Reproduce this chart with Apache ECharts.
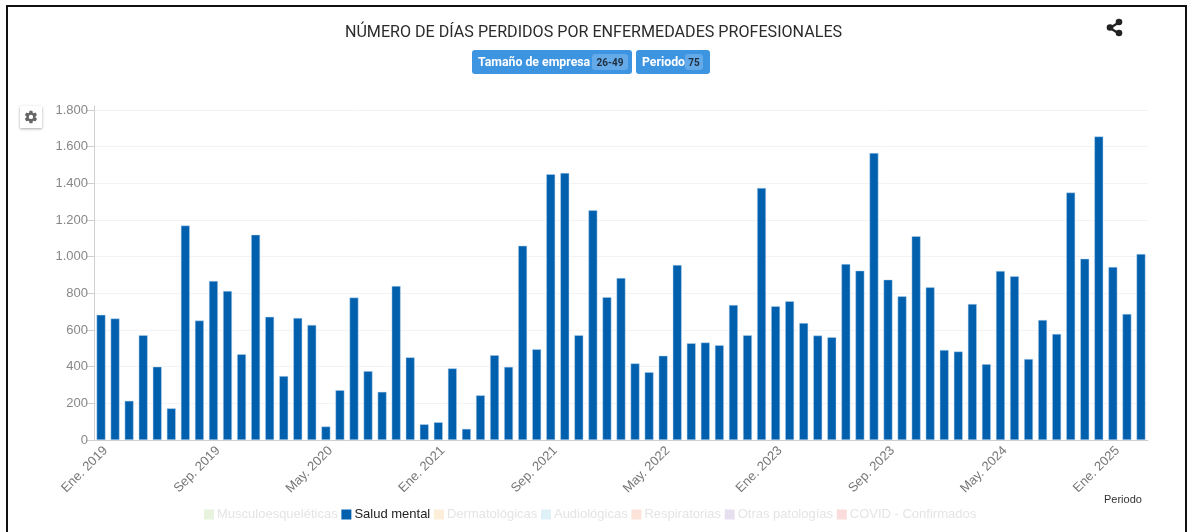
<!DOCTYPE html>
<html><head><meta charset="utf-8">
<style>html,body{margin:0;padding:0;background:#fff;width:1191px;height:532px;overflow:hidden}
#c{position:absolute;left:0;top:0;width:1191px;height:532px}</style>
<script src="https://cdn.jsdelivr.net/npm/echarts@6/dist/echarts.min.js"></script></head>
<body><div id="c"></div>
<script>
const chartTitle = 'NÚMERO DE DÍAS PERDIDOS POR ENFERMEDADES PROFESIONALES';
const categories = [
 'Ene. 2019','Feb. 2019','Mar. 2019','Abr. 2019','May. 2019','Jun. 2019','Jul. 2019','Ago. 2019','Sep. 2019','Oct. 2019','Nov. 2019','Dic. 2019',
 'Ene. 2020','Feb. 2020','Mar. 2020','Abr. 2020','May. 2020','Jun. 2020','Jul. 2020','Ago. 2020','Sep. 2020','Oct. 2020','Nov. 2020','Dic. 2020',
 'Ene. 2021','Feb. 2021','Mar. 2021','Abr. 2021','May. 2021','Jun. 2021','Jul. 2021','Ago. 2021','Sep. 2021','Oct. 2021','Nov. 2021','Dic. 2021',
 'Ene. 2022','Feb. 2022','Mar. 2022','Abr. 2022','May. 2022','Jun. 2022','Jul. 2022','Ago. 2022','Sep. 2022','Oct. 2022','Nov. 2022','Dic. 2022',
 'Ene. 2023','Feb. 2023','Mar. 2023','Abr. 2023','May. 2023','Jun. 2023','Jul. 2023','Ago. 2023','Sep. 2023','Oct. 2023','Nov. 2023','Dic. 2023',
 'Ene. 2024','Feb. 2024','Mar. 2024','Abr. 2024','May. 2024','Jun. 2024','Jul. 2024','Ago. 2024','Sep. 2024','Oct. 2024','Nov. 2024','Dic. 2024',
 'Ene. 2025','Feb. 2025','Mar. 2025'];
const saludMental = [683,663,214,572,400,173,1170,652,868,813,
 468,1120,672,349,666,628,74,272,777,376,
 263,840,451,86,97,391,61,244,463,399,
 1060,495,1450,1457,572,1254,779,884,418,370,
 460,955,528,532,517,737,572,1375,730,757,
 638,570,561,960,924,1566,875,784,1112,833,
 491,483,742,414,922,893,442,655,579,1350,
 989,1656,944,688,1015];
const seriesNames = ['Musculoesqueléticas','Salud mental','Dermatológicas','Audiológicas','Respiratorias','Otras patologías','COVID - Confirmados'];
const legendIconColors = ['#e8f3de','#0060ae','#fdeeda','#dff1f8','#fbe3da','#e6dff0','#fbdcdc'];
const legendTextColors = ['#e4e4e4','#222222','#e4e4e4','#e4e4e4','#e4e4e4','#e4e4e4','#e4e4e4'];
const tickValues = {interval:200, max:1822};

const gearPath = 'M19.4 13c.04-.33.06-.66.06-1s-.02-.67-.06-1l2.1-1.65c.19-.15.24-.42.12-.64l-2-3.46c-.12-.22-.39-.3-.61-.22l-2.49 1c-.52-.4-1.08-.73-1.69-.98l-.38-2.65A.49.49 0 0 0 14 2h-4c-.25 0-.46.18-.49.42l-.38 2.65c-.61.25-1.17.59-1.69.98l-2.49-1c-.23-.09-.49 0-.61.22l-2 3.46c-.13.22-.07.49.12.64L4.57 11c-.04.33-.07.67-.07 1s.03.67.07 1l-2.11 1.65c-.19.15-.24.42-.12.64l2 3.46c.12.22.39.3.61.22l2.49-1c.52.4 1.08.73 1.69.98l.38 2.65c.03.24.24.42.49.42h4c.25 0 .46-.18.49-.42l.38-2.65c.61-.25 1.17-.59 1.69-.98l2.49 1c.23.09.49 0 .61-.22l2-3.46c.12-.22.07-.49-.12-.64L19.4 13zM12 15.5A3.5 3.5 0 1 1 12 8.5a3.5 3.5 0 0 1 0 7z';
echarts.graphic.registerShape('gearIcon', echarts.graphic.extendPath(gearPath, {}));
const chart = echarts.init(document.getElementById('c'), null, {renderer:'canvas'});
const badge = (x,w,label,bx,bw,val)=>[
 {type:'rect',shape:{x:x,y:50,width:w,height:24,r:3},style:{fill:'#3d94e0'}},
 {type:'text',style:{x:x+6,y:63,text:label,fill:'#fff',font:'bold 12.3px Roboto',textVerticalAlign:'middle'}},
 {type:'rect',shape:{x:bx,y:54,width:bw,height:16,r:3},style:{fill:'#64a9e8'}},
 {type:'text',style:{x:bx+bw/2,y:63,text:val,fill:'#1f2d3d',font:'bold 10px Roboto',textAlign:'center',textVerticalAlign:'middle'}}
];
chart.setOption({
 animation:false,
 backgroundColor:'#fff',
 grid:{left:94,right:43,top:106,bottom:92},
 legend:{top:503,left:199,icon:'rect',itemWidth:10,itemHeight:10,itemGap:3.7,selectedMode:false,
  textStyle:{fontFamily:'Liberation Sans',fontSize:13,padding:[0,0,0,-2]},
  data:seriesNames.map((n,i)=>({name:n,itemStyle:{color:legendIconColors[i],borderWidth:0},textStyle:{color:legendTextColors[i]}}))},
 xAxis:{type:'category',data:categories,
  axisLine:{lineStyle:{color:'#cfcfcf'}},
  axisTick:{interval:0,lineStyle:{color:'#cfcfcf'},length:5},
  axisLabel:{interval:7,rotate:45,fontFamily:'Liberation Sans',fontSize:13,color:'#777',margin:4,verticalAlign:'top'},
  splitLine:{show:false}},
 yAxis:{type:'value',min:0,max:tickValues.max,interval:tickValues.interval,
  axisLine:{show:true,lineStyle:{color:'#cfcfcf'}},
  axisTick:{show:true,lineStyle:{color:'#cfcfcf'},length:8},
  axisLabel:{showMaxLabel:false,fontFamily:'Liberation Sans',fontSize:13,color:'#888',margin:6,
   formatter:v=>String(v).replace(/\B(?=(\d{3})+$)/g,'.')},
  splitLine:{showMaxLine:false,lineStyle:{color:'#f3f3f3'}}},
 series:seriesNames.map((n,i)=>({name:n,type:'bar',stack:'t',barWidth:9,
  data:i===1?saludMental:[],
  itemStyle:{color:'#0060ae',borderColor:'rgba(190,215,240,0.8)',borderWidth:0.6}})),
 graphic:{elements:[
  {type:'rect',shape:{x:7,y:6,width:1179,height:540},style:{fill:'none',stroke:'#111',lineWidth:2}},
  {type:'text',x:593.5,y:33,scaleX:0.947,style:{x:0,y:0,text:chartTitle,fill:'#2b2b2b',font:'17px Roboto',textAlign:'center',textVerticalAlign:'middle'}},
  ...badge(472,160,'Tamaño de empresa',592,36,'26-49'),
  ...badge(636,74,'Periodo',685,18,'75'),
  {type:'rect',shape:{x:20,y:106,width:22,height:22,r:1},style:{fill:'#fff',shadowBlur:3,shadowColor:'rgba(0,0,0,.35)',shadowOffsetY:1}},
  {type:'gearIcon',x:23.5,y:109.5,scaleX:0.62,scaleY:0.62,style:{fill:'#666'}},
  {type:'line',shape:{x1:1118,y1:23,x2:1110,y2:28},style:{stroke:'#222',lineWidth:2.4}},
  {type:'line',shape:{x1:1118,y1:33,x2:1110,y2:28},style:{stroke:'#222',lineWidth:2.4}},
  {type:'circle',shape:{cx:1119,cy:22,r:3.3},style:{fill:'#222'}},
  {type:'circle',shape:{cx:1119,cy:33,r:3.3},style:{fill:'#222'}},
  {type:'circle',shape:{cx:1110,cy:27.5,r:3.3},style:{fill:'#222'}},
  {type:'text',style:{x:1104,y:500,text:'Periodo',fill:'#333',font:'11px "Liberation Sans"',textVerticalAlign:'middle'}}
 ]}
});
</script></body></html>
